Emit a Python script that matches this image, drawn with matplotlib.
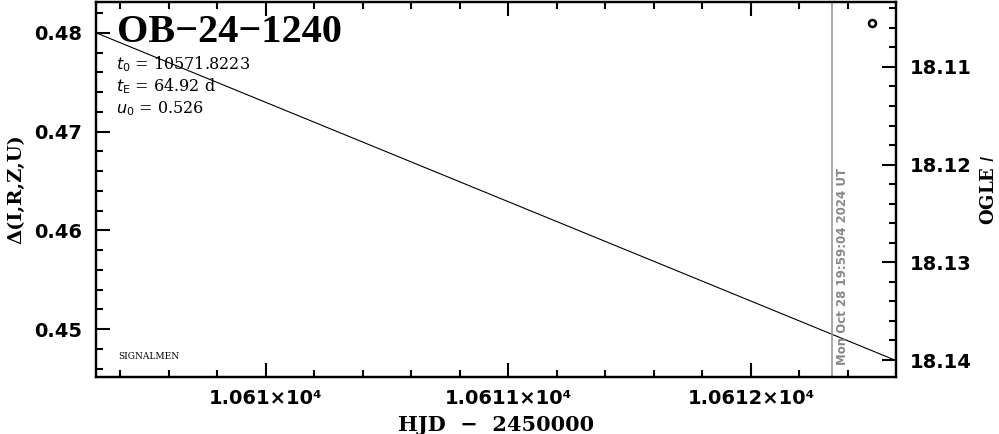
import matplotlib
matplotlib.use("Agg")
import matplotlib.pyplot as plt
from matplotlib.ticker import MultipleLocator, FixedLocator, FixedFormatter
from matplotlib.font_manager import FontProperties

# ---- data ----
model_hjd = [10609.30, 10612.60]
model_delta = [0.4800, 0.4468]
obs_hjd = [10612.50]
obs_delta = [0.4810]
now_hjd = 10612.333
now_label = "Mon Oct 28 19:59:04 2024 UT"
xticks = [10610, 10611, 10612]
xtick_labels = ["1.061×10⁴", "1.0611×10⁴", "1.0612×10⁴"]
left_ticks = [0.45, 0.46, 0.47, 0.48]
left_labels = ["0.45", "0.46", "0.47", "0.48"]
right_ticks = [18.11, 18.12, 18.13, 18.14]
right_labels = ["18.11", "18.12", "18.13", "18.14"]
event_name = "OB−24−1240"
param_lines = [r"$t_0$ = 10571.8223", r"$t_{\rm E}$ = 64.92 d", r"$u_0$ = 0.526"]

xlim = (10609.299, 10612.598)
ylim_left = (0.44515, 0.48313)
ylim_right = (18.14174, 18.10335)

fig = plt.figure(figsize=(9.99, 4.34), dpi=100)
ax = fig.add_axes([96/999, 57/434, 800/999, 375/434])
ax.set_xlim(*xlim)
ax.set_ylim(*ylim_left)

ax.plot(model_hjd, model_delta, color="black", lw=0.8)
ax.plot(obs_hjd, obs_delta, marker="o", ms=5, mfc="white", mec="black", mew=1.8, ls="none")
ax.axvline(now_hjd, color="#999999", lw=1.2)
ax.text(now_hjd + 0.018, 0.4464, now_label, rotation=90, color="#888888",
        fontsize=8.5, fontweight="bold", family="DejaVu Sans", ha="left", va="bottom")

for sp in ax.spines.values():
    sp.set_linewidth(1.6)

tickfont = FontProperties(family="DejaVu Sans", weight="bold", size=14)
ax.xaxis.set_major_locator(FixedLocator(xticks))
ax.xaxis.set_major_formatter(FixedFormatter(xtick_labels))
ax.xaxis.set_minor_locator(MultipleLocator(0.2))
ax.yaxis.set_major_locator(FixedLocator(left_ticks))
ax.yaxis.set_major_formatter(FixedFormatter(left_labels))
ax.yaxis.set_minor_locator(MultipleLocator(0.002))
ax.tick_params(which="both", direction="in", top=True, bottom=True, left=True, right=False, width=1.5)
ax.tick_params(which="major", length=10)
ax.tick_params(which="minor", length=5)
ax.tick_params(axis="x", which="major", pad=9)
ax.tick_params(axis="y", which="major", pad=10)
for lab in ax.get_xticklabels() + ax.get_yticklabels():
    lab.set_fontproperties(tickfont)

ax2 = ax.twinx()
ax2.set_ylim(*ylim_right)
ax2.yaxis.set_major_locator(FixedLocator(right_ticks))
ax2.yaxis.set_major_formatter(FixedFormatter(right_labels))
ax2.yaxis.set_minor_locator(MultipleLocator(0.002))
ax2.tick_params(which="both", direction="in", width=1.5)
ax2.tick_params(which="major", length=10, pad=10)
ax2.tick_params(which="minor", length=5)
for lab in ax2.get_yticklabels():
    lab.set_fontproperties(tickfont)
for sp in ax2.spines.values():
    sp.set_linewidth(1.6)

ax.set_xlabel("HJD  −  2450000", fontsize=15, fontweight="bold", family="DejaVu Serif", labelpad=5)
ax.set_ylabel("Δ(I,R,Z,U)", fontsize=14, fontweight="bold", family="DejaVu Serif", labelpad=6)
ax2.set_ylabel("OGLE $\\mathit{I}$", fontsize=13, fontweight="bold", family="DejaVu Serif", labelpad=6)

ax.text(0.026, 0.918, event_name, transform=ax.transAxes, fontsize=29, fontweight="bold",
        family="Liberation Serif", va="center", ha="left")
for i, s in enumerate(param_lines):
    ax.text(0.025, 0.835 - i * 0.06, s, transform=ax.transAxes, fontsize=11.5,
            family="DejaVu Serif", va="center", ha="left")
ax.text(0.028, 0.055, "SIGNALMEN", transform=ax.transAxes, fontsize=6.5,
        family="DejaVu Serif", va="center", ha="left")

fig.savefig("out.png", dpi=100)
